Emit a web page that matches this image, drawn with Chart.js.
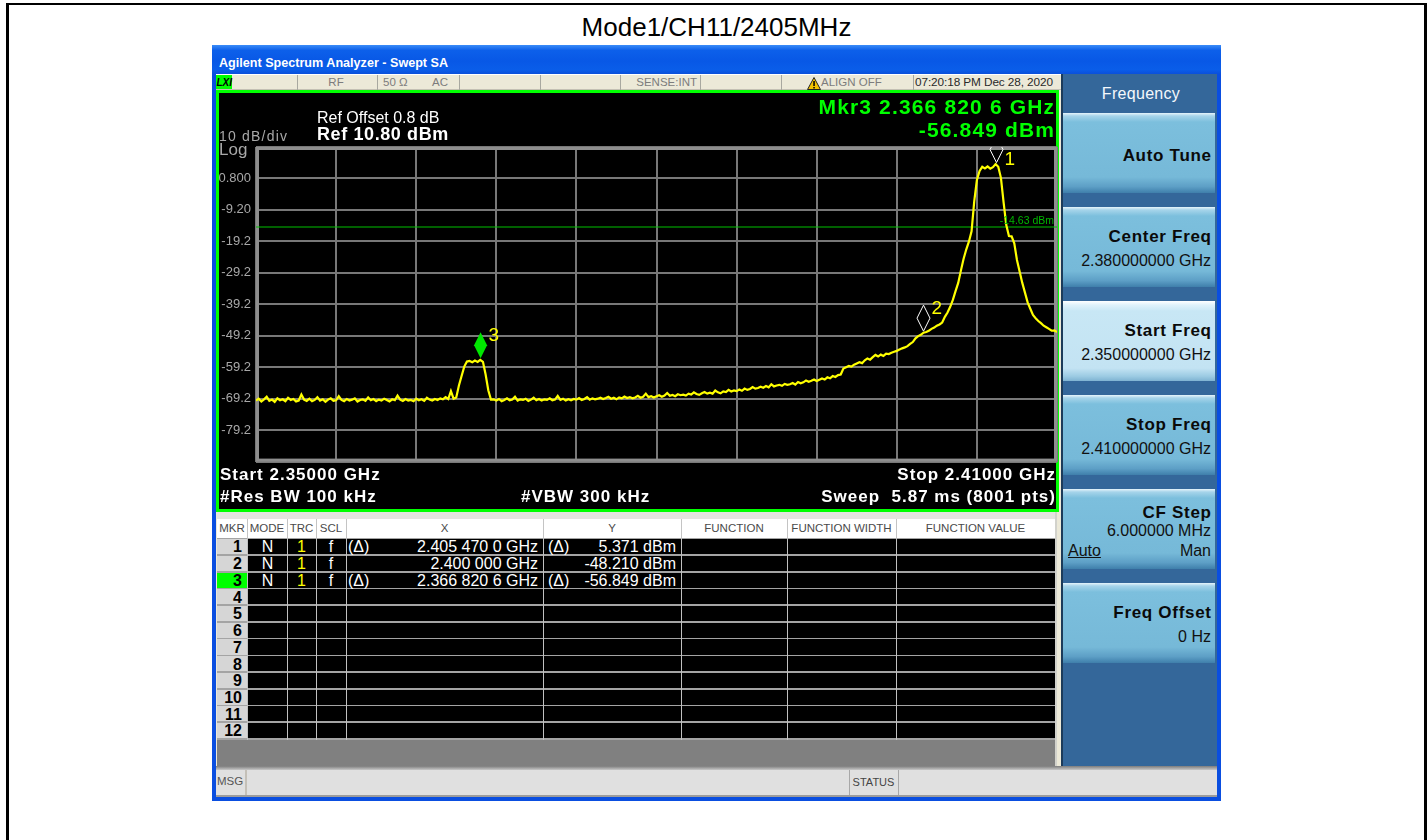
<!DOCTYPE html>
<html>
<head>
<meta charset="utf-8">
<title>Mode1/CH11/2405MHz</title>
<script src="https://cdn.jsdelivr.net/npm/chart.js@4.4.1/dist/chart.umd.min.js"></script>
<style>
  html,body{margin:0;padding:0;}
  body{width:1428px;height:840px;position:relative;overflow:hidden;background:#fff;font-family:"Liberation Sans",Arial,sans-serif;}
  .b{position:absolute;box-sizing:border-box;}
  .t{position:absolute;white-space:pre;}
</style>
</head>
<body>
<script>
// ---------------- DATA ----------------
const traceStartMHz = 2350;
const traceStepMHz = 0.2;
const traceLevelsDbm = [
  -69.8,-69.2,-70.1,-69.4,-68.6,-69.9,-69.5,-70.2,-69.1,-69.7,
  -69.4,-70.0,-68.9,-69.6,-69.3,-70.1,-69.8,-67.9,-69.5,-69.9,
  -69.2,-70.0,-69.6,-68.7,-69.8,-69.4,-70.2,-69.5,-69.1,-69.9,
  -69.7,-68.4,-69.6,-70.0,-69.3,-69.8,-69.5,-69.1,-70.1,-69.6,
  -69.4,-69.9,-68.8,-69.7,-69.3,-70.0,-69.5,-69.8,-69.2,-69.6,
  -70.1,-69.4,-69.7,-68.2,-69.5,-69.9,-69.3,-69.8,-69.6,-70.0,
  -69.2,-69.7,-69.4,-69.9,-68.9,-69.5,-69.8,-69.3,-69.6,-69.1,
  -69.4,-68.7,-69.3,-66.8,-69.2,-68.8,-65.0,-62.0,-59.0,-57.4,
  -57.2,-57.6,-57.1,-57.5,-56.85,-57.5,-61.5,-66.5,-69.5,-69.4,
  -69.8,-69.3,-70.0,-69.6,-69.1,-69.7,-69.5,-68.6,-69.8,-69.4,
  -69.6,-69.2,-69.9,-69.5,-68.9,-69.7,-69.3,-69.8,-69.4,-69.6,
  -69.1,-69.7,-69.5,-68.3,-69.6,-69.2,-69.8,-69.4,-69.7,-69.3,
  -69.5,-69.0,-69.6,-69.3,-68.7,-69.5,-69.1,-69.4,-69.2,-68.9,
  -69.3,-69.0,-68.6,-69.2,-68.9,-69.4,-68.8,-69.1,-68.5,-69.0,
  -68.7,-69.1,-68.8,-68.3,-68.9,-68.6,-67.6,-68.7,-68.4,-68.8,
  -68.4,-68.1,-68.6,-68.2,-67.4,-68.3,-68.0,-68.4,-67.8,-68.1,
  -67.9,-68.2,-67.6,-67.9,-67.2,-67.7,-68.0,-67.5,-67.1,-67.6,
  -67.3,-67.6,-66.6,-67.2,-67.5,-66.9,-67.1,-66.4,-66.9,-66.6,
  -66.8,-66.3,-66.7,-66.0,-66.4,-66.1,-65.5,-66.0,-65.8,-65.4,
  -65.7,-65.2,-65.6,-64.6,-65.3,-65.0,-64.8,-65.1,-64.5,-64.8,
  -64.6,-64.2,-64.7,-63.9,-64.3,-64.0,-63.4,-63.8,-63.5,-63.1,
  -63.6,-63.2,-62.8,-63.1,-62.4,-62.7,-62.0,-62.3,-61.7,-61.5,
  -59.6,-59.2,-58.8,-59.0,-58.4,-58.0,-57.6,-57.9,-57.0,-56.4,
  -56.8,-56.0,-55.3,-55.8,-55.2,-55.6,-54.9,-55.0,-54.6,-54.3,
  -54.0,-53.6,-53.2,-52.9,-52.5,-51.8,-51.2,-50.0,-49.3,-48.9,
  -48.21,-48.0,-47.6,-47.0,-46.6,-46.0,-45.6,-45.0,-43.2,-41.8,
  -40.0,-37.8,-35.0,-32.4,-28.5,-24.8,-21.8,-19.3,-16.0,-6.5,
  0.3,3.2,4.5,4.0,4.6,3.9,4.4,5.37,4.5,1.0,
  -6.8,-14.0,-17.5,-17.6,-19.8,-25.1,-28.8,-32.4,-35.5,-38.6,
  -40.6,-42.6,-43.6,-44.5,-45.2,-46.0,-46.5,-47.0,-47.6,-47.5,
  -48.0
];
const markerIds = ['1', '2', '3'];
const markerFreqMHz = [2405.47, 2400.0, 2366.8206];
const markerLevelDbm = [5.371, -48.21, -56.849];
const activeMarker = '3';
const displayLineDbm = -14.63;
const displayLineLabel = '-14.63 dBm';
const xMinMHz = 2350, xMaxMHz = 2410, xStepMHz = 6;
const yMinDbm = -89.2, yMaxDbm = 10.8, yStepDb = 10;
const yTickLabels = ['', '-79.2', '-69.2', '-59.2', '-49.2', '-39.2', '-29.2', '-19.2', '-9.20', '0.800', ''];
const tableHeaders = ['MKR', 'MODE', 'TRC', 'SCL', 'X', 'Y', 'FUNCTION', 'FUNCTION WIDTH', 'FUNCTION VALUE'];
const tableRows = [
  ['1', 'N', '1', 'f', '(Δ)', '2.405 470 0 GHz', '(Δ)', '5.371 dBm'],
  ['2', 'N', '1', 'f', '', '2.400 000 GHz', '', '-48.210 dBm'],
  ['3', 'N', '1', 'f', '(Δ)', '2.366 820 6 GHz', '(Δ)', '-56.849 dBm']
];
const softkeys = [
  ['Auto Tune', ''],
  ['Center Freq', '2.380000000 GHz'],
  ['Start Freq', '2.350000000 GHz'],
  ['Stop Freq', '2.410000000 GHz'],
  ['CF Step', '6.000000 MHz'],
  ['Freq Offset', '0 Hz']
];
</script>
<script>
const W = 1428;
function box(x, y, w, h, css) {
  const d = document.createElement('div');
  d.className = 'b';
  d.style.cssText = `left:${x}px;top:${y}px;width:${w}px;height:${h}px;` + (css || '');
  document.body.appendChild(d);
  return d;
}
function text(s, x, base, size, o) {
  o = o || {};
  const d = document.createElement('div');
  d.className = 't';
  d.textContent = s;
  const ls = o.ls || 0;
  let css = `top:${(base - 0.8465 * size).toFixed(2)}px;font-size:${size}px;line-height:${size}px;color:${o.color || '#000'};`;
  if (o.bold) css += 'font-weight:bold;';
  if (ls) css += `letter-spacing:${ls}px;`;
  if (o.italic) css += 'font-style:italic;';
  if (o.underline) css += 'text-decoration:underline;';
  if (o.align === 'r') css += `right:${W - x - ls}px;`;
  else if (o.align === 'c') css += `left:${x}px;transform:translateX(-50%);`;
  else css += `left:${x}px;`;
  d.style.cssText = css;
  document.body.appendChild(d);
  return d;
}

// page frame
box(6, 3, 1421, 2, 'background:#000');
box(6, 3, 3, 837, 'background:#000');
box(1424, 3, 3, 837, 'background:#000');
text('Mode1/CH11/2405MHz', 716.5, 36, 26, {align: 'c'});

// window
box(212, 45, 1009, 756, 'background:#0a4ee0');
box(212, 45, 1009, 29, 'background:linear-gradient(180deg,#3b8cf8 0%,#0d60ea 18%,#0858e6 55%,#0a5de9 85%,#0b50da 100%)');
text('Agilent Spectrum Analyzer - Swept SA', 219, 67.3, 12.6, {bold: true, color: '#fff'});
box(216, 74, 1001, 723, 'background:#ece9d8');

// status bar
box(216, 74, 845, 16, 'background:#ece9d8;border-top:1px solid #fff;border-bottom:1px solid #c4c0b4');
[297, 377, 459, 540, 620, 700, 781, 913].forEach(x => box(x, 75, 1, 15, 'background:#a8a8a0'));
box(216, 75, 16, 14, 'background:#00ff00');
text('LXI', 216.5, 86.5, 10, {bold: true, italic: true});
const sb = {color: '#7c7c7c'};
text('RF', 336, 87, 11.5, {align: 'c', color: '#7c7c7c'});
text('50 Ω', 383, 87, 11.5, sb);
text('AC', 432, 87, 11.5, sb);
text('SENSE:INT', 697, 87, 11.5, {align: 'r', color: '#7c7c7c'});
const warn = document.createElement('div');
warn.className = 'b';
warn.style.cssText = 'left:807px;top:76px;width:14px;height:13px;';
warn.innerHTML = '<svg width="14" height="13" viewBox="0 0 14 13"><polygon points="7,0.5 13.5,12.5 0.5,12.5" fill="#f2c200" stroke="#222" stroke-width="1"/><rect x="6.3" y="4" width="1.5" height="5" fill="#000"/><rect x="6.3" y="10" width="1.5" height="1.5" fill="#000"/></svg>';
document.body.appendChild(warn);
text('ALIGN OFF', 821, 87, 11.5, sb);
text('07:20:18 PM Dec 28, 2020', 915, 87, 11.8, {color: '#2a2a2a', ls: -0.1});

// softkey panel
box(1061, 74, 156, 693, 'background:#34679a;border-left:2px solid #1c3b5a');
text('Frequency', 1141, 99.5, 16, {align: 'c', color: '#f4f8fc', ls: 0.3});
const skTops = [113, 207, 301, 395, 489, 583];
softkeys.forEach((k, i) => {
  const top = skTops[i];
  const sel = i === 2;
  box(1063, top, 152, 80, sel
    ? 'background:linear-gradient(180deg,#ffffff 0px,#dff2fb 4px,#c8e7f5 10px,#c3e3f3 84%,#9ccbe3 94%,#7fb3d2 100%)'
    : 'background:linear-gradient(180deg,#e6f4fb 0px,#a6d4ea 3px,#7cbfdd 9px,#76b9d8 80%,#5d9fc6 92%,#3f7fab 100%)');
  const tOpt = {align: 'r', bold: true, color: '#0a0a0a', ls: 0.7};
  const vOpt = {align: 'r', color: '#111'};
  if (i === 0) {
    text(k[0], 1211, top + 48, 17, tOpt);
  } else if (i === 4) {
    text(k[0], 1211, top + 29, 17, tOpt);
    text(k[1], 1211, top + 48, 16, vOpt);
    text('Auto', 1068, top + 68, 16, {color: '#111', underline: true});
    text('Man', 1211, top + 68, 16, vOpt);
  } else {
    text(k[0], 1211, top + 35, 17, tOpt);
    text(k[1], 1211, top + 60, 16, vOpt);
  }
});

// plot frame
box(216, 90, 843, 422, 'background:#000;border:3px solid #00ff00');

// table area
box(216, 512, 845, 254, 'background:#808080');
box(216, 512, 845, 7, 'background:#e4e4e0');
box(1055, 512, 6, 254, 'background:#ece9d8;border-left:2px solid #d2d2cc');
box(216, 512, 1, 254, 'background:#ece9d8');
const colX = [217, 247, 287, 316, 346, 543, 681, 787, 896, 1055];
box(217, 519, 838, 19, 'background:#fff');
tableHeaders.forEach((h, i) => {
  text(h, (colX[i] + colX[i + 1]) / 2, 532.5, 11.5, {align: 'c', color: '#4a4a4a'});
  if (i > 0) box(colX[i], 519, 1, 19, 'background:#c4c4c4');
});
const rowTop = 538, rowH = 16.72;
box(217, rowTop, 838, 12 * rowH + 1, 'background:#000');
box(217, rowTop, 30, 12 * rowH + 1, 'background:#d6d6d6');
box(217, rowTop + 2 * rowH, 30, rowH, 'background:#00ff00');
for (let r = 0; r <= 12; r++) box(217, rowTop + r * rowH - 0.5, 838, 1.6, 'background:#a4a4a4');
colX.slice(1, 9).forEach(x => box(x, rowTop, 1, 12 * rowH + 1, 'background:#c0c0c0'));
for (let r = 0; r < 12; r++) {
  text(String(r + 1), 242, rowTop + r * rowH + 15, 16, {align: 'r', bold: true});
}
tableRows.forEach((row, r) => {
  const base = rowTop + r * rowH + 15;
  text(row[1], 267.5, base, 16, {align: 'c', color: '#fff'});
  text(row[2], 301.5, base, 16, {align: 'c', color: '#ffff00'});
  text(row[3], 331, base, 16, {align: 'c', color: '#fff'});
  if (row[4]) text(row[4], 348, base, 16, {color: '#fff'});
  text(row[5], 538, base, 16, {align: 'r', color: '#fff'});
  if (row[6]) text(row[6], 548, base, 16, {color: '#fff'});
  text(row[7], 676, base, 16, {align: 'r', color: '#fff'});
});

// message bar
box(216, 766, 1001, 4, 'background:linear-gradient(180deg,#7c7c7c,#c8c8c8)');
box(216, 770, 1001, 25, 'background:#e0e0e0');
box(216, 795, 1001, 2, 'background:#9c9c9c');
box(245, 770, 2, 25, 'background:#c4c0b8');
box(849, 770, 1, 25, 'background:#a8a8a8');
box(898, 770, 1, 25, 'background:#a8a8a8');
text('MSG', 217, 786, 11.5, {color: '#555'});
text('STATUS', 873.5, 786, 11, {align: 'c', color: '#444'});

// ---------------- CHART ----------------
Chart.defaults.font.family = '"Liberation Sans", Arial, sans-serif';
const canvas = document.createElement('canvas');
canvas.width = 843; canvas.height = 422;
canvas.style.cssText = 'position:absolute;left:216px;top:90px;width:843px;height:422px;';
document.body.appendChild(canvas);

const tracePoints = traceLevelsDbm.map((v, i) => ({x: traceStartMHz + i * traceStepMHz, y: v}));

const graticuleBorder = {
  id: 'graticuleBorder',
  beforeDatasetsDraw(chart) {
    const {ctx, chartArea: a} = chart;
    ctx.save();
    ctx.strokeStyle = '#8e8e8e';
    ctx.lineWidth = 3;
    ctx.strokeRect(a.left + 1.5, a.top + 1.5, a.width - 3, a.height - 3);
    ctx.restore();
  }
};
const markerPlugin = {
  id: 'markers',
  afterDatasetsDraw(chart) {
    const {ctx, chartArea: a, scales: {x, y}} = chart;
    ctx.save();
    ctx.beginPath(); ctx.rect(a.left, a.top, a.width, a.height); ctx.clip();
    const yl = y.getPixelForValue(displayLineDbm);
    ctx.fillStyle = '#00b400';
    ctx.font = '10.5px "Liberation Sans", Arial, sans-serif';
    ctx.textAlign = 'right'; ctx.textBaseline = 'alphabetic';
    ctx.fillText(displayLineLabel, a.right - 3, yl - 3);
    markerFreqMHz.forEach((f, k) => {
      const px = x.getPixelForValue(f), py = y.getPixelForValue(markerLevelDbm[k]);
      const tip = py - 1.5, h = 26, hw = 6.5, top = tip - h;
      ctx.beginPath();
      ctx.moveTo(px, tip); ctx.lineTo(px + hw, tip - h / 2); ctx.lineTo(px, top); ctx.lineTo(px - hw, tip - h / 2);
      ctx.closePath();
      if (markerIds[k] === activeMarker) { ctx.fillStyle = '#00e600'; ctx.fill(); }
      else { ctx.strokeStyle = '#ffffff'; ctx.lineWidth = 1; ctx.stroke(); }
      ctx.fillStyle = '#ffff00';
      ctx.font = '19px "Liberation Sans", Arial, sans-serif';
      ctx.textAlign = 'left';
      ctx.fillText(markerIds[k], px + 8, Math.max(top + 8.5, a.top + 18));
    });
    ctx.restore();
  }
};
const gridOpts = {color: '#787878', lineWidth: 2, drawTicks: false};
new Chart(canvas, {
  type: 'line',
  data: {
    datasets: [
      {label: 'Trace 1', data: tracePoints, borderColor: '#ffff00', borderWidth: 2.2, pointRadius: 0, tension: 0, order: 1},
      {label: 'Display Line', data: [{x: xMinMHz, y: displayLineDbm}, {x: xMaxMHz, y: displayLineDbm}], borderColor: '#00c000', borderWidth: 1, pointRadius: 0, order: 2}
    ]
  },
  options: {
    responsive: false, animation: false, events: [],
    layout: {padding: {left: 0, top: 57, right: 2, bottom: 50.4}},
    plugins: {legend: {display: false}, tooltip: {enabled: false}},
    scales: {
      x: {type: 'linear', min: xMinMHz, max: xMaxMHz, ticks: {display: false, stepSize: xStepMHz}, grid: gridOpts, border: {display: false}},
      y: {type: 'linear', min: yMinDbm, max: yMaxDbm,
          ticks: {stepSize: yStepDb, padding: 5, color: '#a8a8a8', font: {size: 13}, callback: (v, i) => yTickLabels[i]},
          grid: gridOpts, border: {display: false}, afterFit(s) { s.width = 40; }}
    }
  },
  plugins: [graticuleBorder, markerPlugin]
});

// plot texts
text('Ref Offset 0.8 dB', 317, 123.3, 16, {color: '#fff'});
text('Ref 10.80 dBm', 317, 140, 18, {bold: true, color: '#fff', ls: 0.6});
text('10 dB/div', 219, 140.7, 14, {color: '#a8a8a8', ls: 1.2});
text('Log', 219, 155, 17, {color: '#a8a8a8'});
text('Mkr3 2.366 820 6 GHz', 1054, 114, 21, {bold: true, color: '#00ff00', ls: 1.15, align: 'r'});
text('-56.849 dBm', 1054, 137, 21, {bold: true, color: '#00ff00', ls: 1.15, align: 'r'});
const wb = {bold: true, color: '#fff', ls: 1};
text('Start 2.35000 GHz', 220, 480, 17, wb);
text('#Res BW 100 kHz', 220, 502.3, 17, wb);
text('#VBW 300 kHz', 521, 502.3, 17, wb);
text('Stop 2.41000 GHz', 1055, 480, 17, Object.assign({align: 'r'}, wb));
text('Sweep  5.87 ms (8001 pts)', 1055, 502.3, 17, Object.assign({align: 'r'}, wb));
</script>
</body>
</html>
